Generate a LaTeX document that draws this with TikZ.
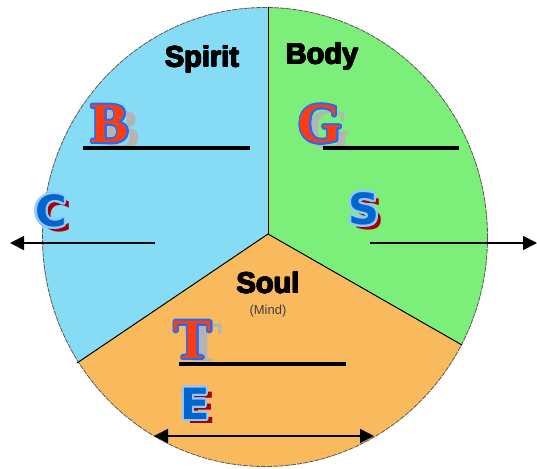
\documentclass[tikz,border=0pt]{standalone}
\usepackage{fontspec}
\setmainfont{Liberation Sans}
\newfontfamily\serifB{Liberation Serif}
\newfontfamily\roundB{DejaVu Sans}
\usetikzlibrary{arrows.meta}
\definecolor{spiritc}{HTML}{86DCF4}
\definecolor{bodyc}{HTML}{7CEE7A}
\definecolor{soulc}{HTML}{F8BA5C}
\definecolor{redl}{HTML}{FF3B10}
\definecolor{bluel}{HTML}{1E6CFF}
\definecolor{shadowg}{HTML}{B4B4B4}
\definecolor{blued}{HTML}{0066CC}
\definecolor{bluelight}{HTML}{8FC8FF}
\definecolor{redd}{HTML}{A80000}
\tikzset{
  divider/.style={line width=1pt, black},
  blank/.style={line width=4.5pt, black},
  arrowline/.style={line width=1.6pt, black, >={Triangle[length=14pt,width=14pt]}},
}
\newcommand{\fancylet}[7]{% name, x,y, font, fill, outline, text, outline radius
  \foreach \a in {0,22.5,...,359} {\node[font=#3,text=#5,inner sep=0] at ([shift={(\a:#7)}]#2) {#6};}
  \node[font=#3,text=#4,inner sep=0] (#1) at (#2) {#6};}
\newcommand{\heavylabel}[3]{% name, x,y, text  (anchor base)
  \foreach \a in {0,45,...,359} {\node[font=\bfseries\fontsize{29}{30}\selectfont,anchor=base,inner sep=0] at ([shift={(\a:0.6pt)}]#2) {#3};}
  \node[font=\bfseries\fontsize{29}{30}\selectfont,anchor=base,inner sep=0] (#1) at (#2) {#3};}
\begin{document}
\begin{tikzpicture}[x=1pt,y=-1pt]
\useasboundingbox (0,0) rectangle (537,468);
\coordinate (J) at (268,234);
\coordinate (top) at (268,7.5);
\coordinate (ll) at (77,363);
\coordinate (rr) at (462,345);
\begin{scope}
  \clip (265,237) ellipse [x radius=222.5, y radius=229.5];
  \fill[soulc] (0,0) rectangle (537,468);
  \fill[spiritc] (J) -- (268,-10) -- (-10,-10) -- (-10,422) -- cycle;
  \fill[bodyc] (J) -- (268,-10) -- (550,-10) -- (550,395) -- cycle;
\end{scope}
\draw[gray!70!black, line width=0.8pt, dash pattern=on 5pt off 1pt] (265,237) ellipse [x radius=222.5, y radius=229.5];
\draw[divider] (J) -- (top);
\draw[divider] (J) -- (ll);
\draw[divider] (J) -- (rr);

\heavylabel{spirit}{202,67}{Spirit}
\heavylabel{body}{322,64}{Body}
\heavylabel{soul}{268,293}{Soul}
\node[font=\fontsize{13}{14}\selectfont, text=black!75, inner sep=0] (mind) at (268,311) {(Mind)};

% serif letters with shadow
\node[font=\serifB\bfseries\fontsize{57}{57}\selectfont, text=shadowg, inner sep=0] (Bs) at (122,130) {B};
\fancylet{B}{110,124}{\serifB\bfseries\fontsize{57}{57}\selectfont}{redl}{bluel}{B}{1.7pt}
\node[font=\serifB\bfseries\fontsize{57}{57}\selectfont, text=shadowg, inner sep=0] (Gs) at (329,130) {G};
\fancylet{G}{320,124}{\serifB\bfseries\fontsize{57}{57}\selectfont}{redl}{bluel}{G}{1.7pt}
\node[font=\serifB\bfseries\fontsize{57}{57}\selectfont, text=shadowg, inner sep=0] (Ts) at (204,343) {T};
\fancylet{T}{193,340}{\serifB\bfseries\fontsize{57}{57}\selectfont}{redl}{bluel}{T}{1.7pt}

\draw[blank] (83,148) -- (250,148);
\draw[blank] (323,148) -- (459,148);
\draw[blank] (179,364) -- (346,364);

% rounded letters with shadow
\node[font=\roundB\bfseries\fontsize{43}{43}\selectfont, text=redd, inner sep=0] (Cs) at (56,216) {C};
\fancylet{C}{51,211}{\roundB\bfseries\fontsize{43}{43}\selectfont}{blued}{bluelight}{C}{2.3pt}
\node[font=\roundB\bfseries\fontsize{43}{43}\selectfont, text=redd, inner sep=0] (Ss) at (369,214) {S};
\fancylet{S}{364,209}{\roundB\bfseries\fontsize{43}{43}\selectfont}{blued}{bluelight}{S}{2.3pt}
\node[font=\roundB\bfseries\fontsize{43}{43}\selectfont, text=redd, inner sep=0] (Es) at (201,408) {E};
\fancylet{E}{195,404}{\roundB\bfseries\fontsize{43}{43}\selectfont}{blued}{bluelight}{E}{2.3pt}

\coordinate (la1) at (155,243); \coordinate (la2) at (10,243);
\coordinate (ra1) at (370,243); \coordinate (ra2) at (537,243);
\coordinate (ea1) at (154,436); \coordinate (ea2) at (374,436);
\draw[arrowline, ->] (la1) -- (la2);
\draw[arrowline, ->] (ra1) -- (ra2);
\draw[arrowline, <->] (ea1) -- (ea2);
\end{tikzpicture}
\end{document}
